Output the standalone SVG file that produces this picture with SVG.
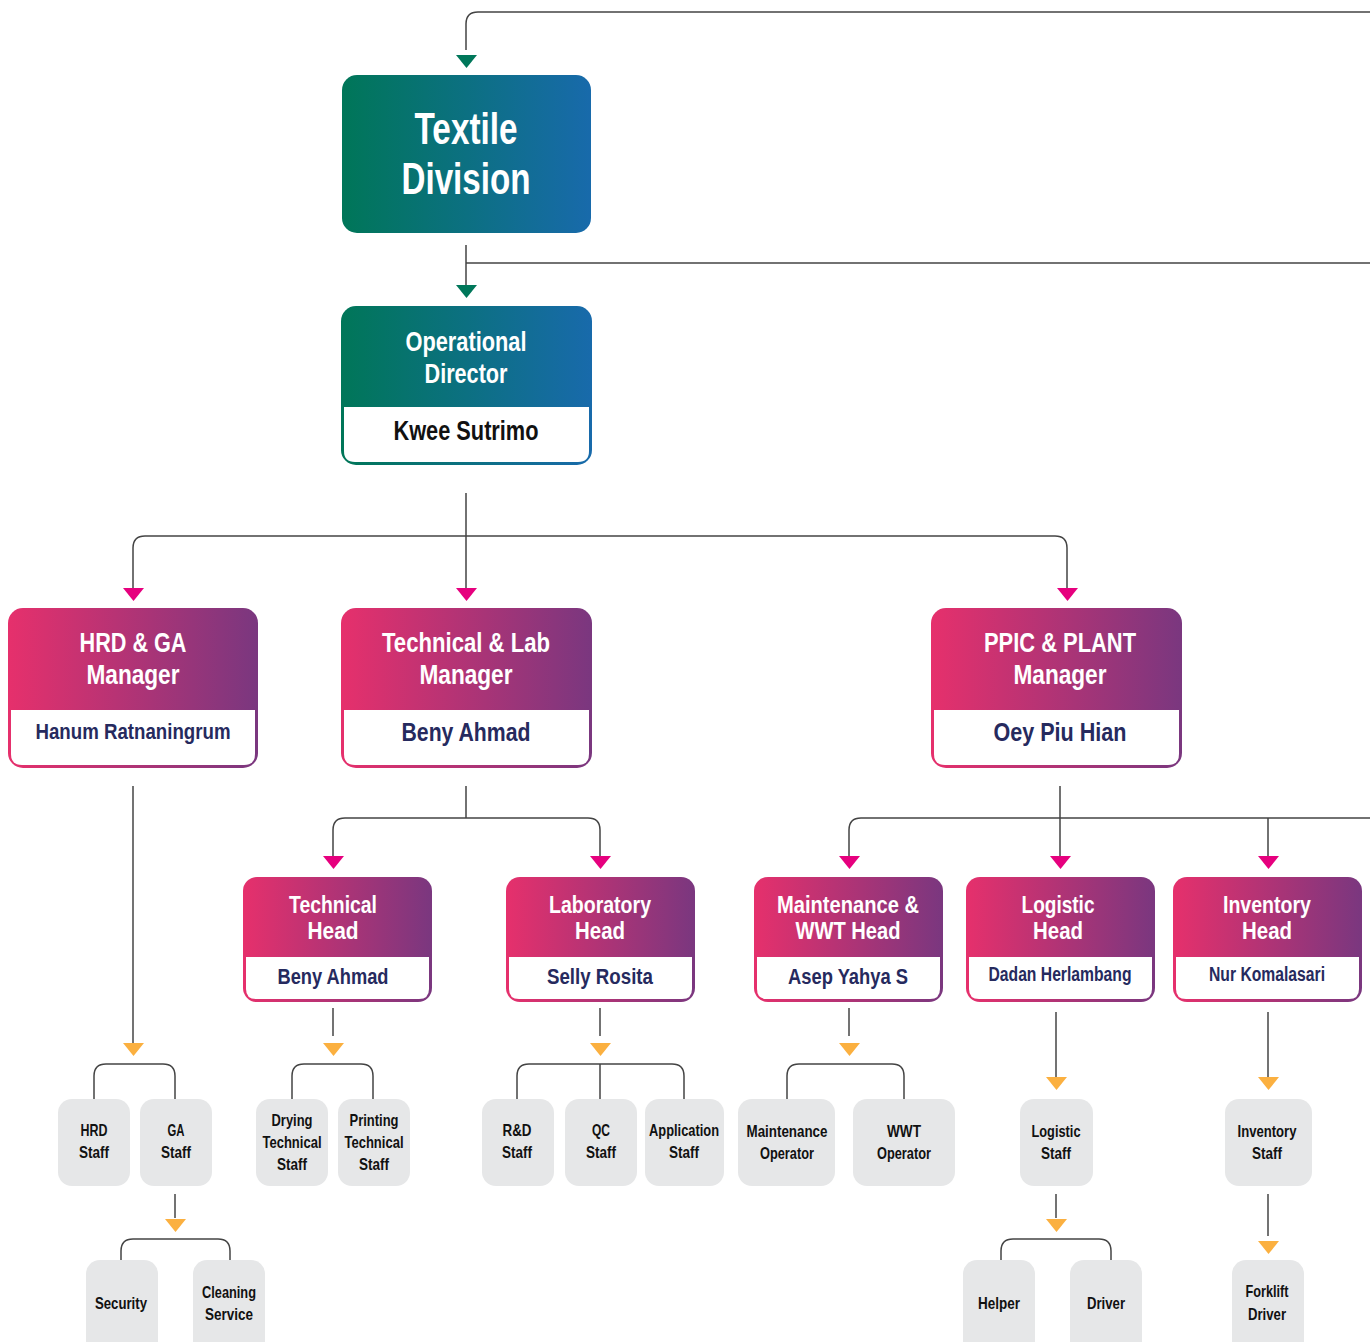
<svg xmlns="http://www.w3.org/2000/svg" width="1370" height="1342" viewBox="0 0 1370 1342">
<defs>
<linearGradient id="gBlue" x1="0" y1="0" x2="1" y2="0"><stop offset="0" stop-color="#007658"/><stop offset="1" stop-color="#186aab"/></linearGradient>
<linearGradient id="gPink" x1="0" y1="0" x2="1" y2="0"><stop offset="0" stop-color="#e6306c"/><stop offset="1" stop-color="#7a377f"/></linearGradient>
<style>
text{font-family:"Liberation Sans",Arial,sans-serif;font-weight:bold;text-anchor:middle}
.w{fill:#ffffff}
.k{fill:#111111}
.s{fill:#111111;font-size:16.5px}
.n{fill:#262a5e}
.ln{fill:none;stroke:#444444;stroke-width:1.5}
.ag{fill:#00775a}
.ap{fill:#e6007e}
.ao{fill:#fbb040}
.gb{fill:#e6e7e8}
.body{fill:#ffffff}
</style>
</defs>

<g id="connectors">
<path class="ln" d="M466,50 V24 Q466,12 478,12 H1370"/>
<path class="ln" d="M466,245 V286 M466,263 H1370"/>
<path class="ln" d="M466,493 V590 M133,590 V548 Q133,536 145,536 H1055 Q1067,536 1067,548 V590"/>
<path class="ln" d="M133,786 V1045"/>
<path class="ln" d="M94,1099 V1076 Q94,1064 106,1064 H163 Q175,1064 175,1076 V1099"/>
<path class="ln" d="M175,1194 V1218"/>
<path class="ln" d="M121,1260 V1251 Q121,1239 133,1239 H218 Q230,1239 230,1251 V1260"/>
<path class="ln" d="M466,786 V818 M333,858 V830 Q333,818 345,818 H588 Q600,818 600,830 V858"/>
<path class="ln" d="M333,1008 V1036"/>
<path class="ln" d="M292,1099 V1076 Q292,1064 304,1064 H361 Q373,1064 373,1076 V1099"/>
<path class="ln" d="M600,1008 V1036"/>
<path class="ln" d="M517,1099 V1076 Q517,1064 529,1064 H672 Q684,1064 684,1076 V1099 M600,1064 V1099"/>
<path class="ln" d="M1060,786 V858 M849,858 V830 Q849,818 861,818 H1370 M1268,818 V858"/>
<path class="ln" d="M849,1008 V1036"/>
<path class="ln" d="M787,1099 V1076 Q787,1064 799,1064 H892 Q904,1064 904,1076 V1099"/>
<path class="ln" d="M1056,1012 V1078"/>
<path class="ln" d="M1056,1194 V1218"/>
<path class="ln" d="M1001,1260 V1251 Q1001,1239 1013,1239 H1099 Q1111,1239 1111,1251 V1260"/>
<path class="ln" d="M1268,1012 V1078"/>
<path class="ln" d="M1268,1194 V1236"/>
<polygon class="ag" points="456,55 477,55 466.5,68"/>
<polygon class="ag" points="456,285 477,285 466.5,298"/>
<polygon class="ap" points="123,588 144,588 133.5,601"/>
<polygon class="ap" points="456,588 477,588 466.5,601"/>
<polygon class="ap" points="1057,588 1078,588 1067.5,601"/>
<polygon class="ap" points="323,856 344,856 333.5,869"/>
<polygon class="ap" points="590,856 611,856 600.5,869"/>
<polygon class="ap" points="839,856 860,856 849.5,869"/>
<polygon class="ap" points="1050,856 1071,856 1060.5,869"/>
<polygon class="ap" points="1258,856 1279,856 1268.5,869"/>
<polygon class="ao" points="123,1043 144,1043 133.5,1056"/>
<polygon class="ao" points="165,1219 186,1219 175.5,1232"/>
<polygon class="ao" points="323,1043 344,1043 333.5,1056"/>
<polygon class="ao" points="590,1043 611,1043 600.5,1056"/>
<polygon class="ao" points="839,1043 860,1043 849.5,1056"/>
<polygon class="ao" points="1046,1077 1067,1077 1056.5,1090"/>
<polygon class="ao" points="1046,1219 1067,1219 1056.5,1232"/>
<polygon class="ao" points="1258,1077 1279,1077 1268.5,1090"/>
<polygon class="ao" points="1258,1241 1279,1241 1268.5,1254"/>
</g>

<g id="textile-division">
<rect x="342" y="75" width="249" height="158" rx="15" fill="url(#gBlue)"/>
<text class="w" x="466" y="144" font-size="44" textLength="103" lengthAdjust="spacingAndGlyphs">Textile</text>
<text class="w" x="466" y="194" font-size="44" textLength="129" lengthAdjust="spacingAndGlyphs">Division</text>
</g>

<g id="operational-director">
<rect x="341" y="306" width="251" height="159" rx="15" fill="url(#gBlue)"/>
<path class="body" d="M344,407 H589 V451 Q589,462 578,462 H355 Q344,462 344,451 Z"/>
<text class="w" x="466" y="351" font-size="27" textLength="121" lengthAdjust="spacingAndGlyphs">Operational</text>
<text class="w" x="466" y="383" font-size="27" textLength="83" lengthAdjust="spacingAndGlyphs">Director</text>
<text class="k" x="466" y="440" font-size="27" textLength="145" lengthAdjust="spacingAndGlyphs">Kwee Sutrimo</text>
</g>

<g id="hrd-ga-manager">
<rect x="8" y="608" width="250" height="160" rx="15" fill="url(#gPink)"/>
<path class="body" d="M11,710 H255 V754 Q255,765 244,765 H22 Q11,765 11,754 Z"/>
<text class="w" x="133" y="652" font-size="27" textLength="107" lengthAdjust="spacingAndGlyphs">HRD &amp; GA</text>
<text class="w" x="133" y="684" font-size="27" textLength="93" lengthAdjust="spacingAndGlyphs">Manager</text>
<text class="n" x="133" y="739" font-size="22" textLength="195" lengthAdjust="spacingAndGlyphs">Hanum Ratnaningrum</text>
</g>

<g id="technical-lab-manager">
<rect x="341" y="608" width="251" height="160" rx="15" fill="url(#gPink)"/>
<path class="body" d="M344,710 H589 V754 Q589,765 578,765 H355 Q344,765 344,754 Z"/>
<text class="w" x="466" y="652" font-size="27" textLength="168" lengthAdjust="spacingAndGlyphs">Technical &amp; Lab</text>
<text class="w" x="466" y="684" font-size="27" textLength="93" lengthAdjust="spacingAndGlyphs">Manager</text>
<text class="n" x="466" y="741" font-size="26" textLength="129" lengthAdjust="spacingAndGlyphs">Beny Ahmad</text>
</g>

<g id="ppic-plant-manager">
<rect x="931" y="608" width="251" height="160" rx="15" fill="url(#gPink)"/>
<path class="body" d="M934,710 H1179 V754 Q1179,765 1168,765 H945 Q934,765 934,754 Z"/>
<text class="w" x="1060" y="652" font-size="27" textLength="152" lengthAdjust="spacingAndGlyphs">PPIC &amp; PLANT</text>
<text class="w" x="1060" y="684" font-size="27" textLength="93" lengthAdjust="spacingAndGlyphs">Manager</text>
<text class="n" x="1060" y="741" font-size="26" textLength="133" lengthAdjust="spacingAndGlyphs">Oey Piu Hian</text>
</g>

<g id="technical-head">
<rect x="243" y="877" width="189" height="125" rx="14" fill="url(#gPink)"/>
<path class="body" d="M246,957 H429 V989 Q429,999 419,999 H256 Q246,999 246,989 Z"/>
<text class="w" x="333" y="913" font-size="24" textLength="88" lengthAdjust="spacingAndGlyphs">Technical</text>
<text class="w" x="333" y="939" font-size="24" textLength="51" lengthAdjust="spacingAndGlyphs">Head</text>
<text class="n" x="333" y="984" font-size="22" textLength="111" lengthAdjust="spacingAndGlyphs">Beny Ahmad</text>
</g>

<g id="laboratory-head">
<rect x="506" y="877" width="189" height="125" rx="14" fill="url(#gPink)"/>
<path class="body" d="M509,957 H692 V989 Q692,999 682,999 H519 Q509,999 509,989 Z"/>
<text class="w" x="600" y="913" font-size="24" textLength="102" lengthAdjust="spacingAndGlyphs">Laboratory</text>
<text class="w" x="600" y="939" font-size="24" textLength="50" lengthAdjust="spacingAndGlyphs">Head</text>
<text class="n" x="600" y="984" font-size="22" textLength="106" lengthAdjust="spacingAndGlyphs">Selly Rosita</text>
</g>

<g id="maintenance-wwt-head">
<rect x="754" y="877" width="189" height="125" rx="14" fill="url(#gPink)"/>
<path class="body" d="M757,957 H940 V989 Q940,999 930,999 H767 Q757,999 757,989 Z"/>
<text class="w" x="848" y="913" font-size="24" textLength="142" lengthAdjust="spacingAndGlyphs">Maintenance &amp;</text>
<text class="w" x="848" y="939" font-size="24" textLength="105" lengthAdjust="spacingAndGlyphs">WWT Head</text>
<text class="n" x="848" y="984" font-size="22" textLength="120" lengthAdjust="spacingAndGlyphs">Asep Yahya S</text>
</g>

<g id="logistic-head">
<rect x="966" y="877" width="189" height="125" rx="14" fill="url(#gPink)"/>
<path class="body" d="M969,957 H1152 V989 Q1152,999 1142,999 H979 Q969,999 969,989 Z"/>
<text class="w" x="1058" y="913" font-size="24" textLength="73" lengthAdjust="spacingAndGlyphs">Logistic</text>
<text class="w" x="1058" y="939" font-size="24" textLength="50" lengthAdjust="spacingAndGlyphs">Head</text>
<text class="n" x="1060" y="981" font-size="19.5" textLength="143" lengthAdjust="spacingAndGlyphs">Dadan Herlambang</text>
</g>

<g id="inventory-head">
<rect x="1173" y="877" width="189" height="125" rx="14" fill="url(#gPink)"/>
<path class="body" d="M1176,957 H1359 V989 Q1359,999 1349,999 H1186 Q1176,999 1176,989 Z"/>
<text class="w" x="1267" y="913" font-size="24" textLength="88" lengthAdjust="spacingAndGlyphs">Inventory</text>
<text class="w" x="1267" y="939" font-size="24" textLength="50" lengthAdjust="spacingAndGlyphs">Head</text>
<text class="n" x="1267" y="981" font-size="19.5" textLength="116" lengthAdjust="spacingAndGlyphs">Nur Komalasari</text>
</g>

<g id="hrd-staff"><rect class="gb" x="58" y="1099" width="72" height="87" rx="14"/><text class="s" x="94" y="1136" textLength="27" lengthAdjust="spacingAndGlyphs">HRD</text><text class="s" x="94" y="1158" textLength="30" lengthAdjust="spacingAndGlyphs">Staff</text></g>
<g id="ga-staff"><rect class="gb" x="140" y="1099" width="72" height="87" rx="14"/><text class="s" x="176" y="1136" textLength="17" lengthAdjust="spacingAndGlyphs">GA</text><text class="s" x="176" y="1158" textLength="30" lengthAdjust="spacingAndGlyphs">Staff</text></g>
<g id="security"><rect class="gb" x="86" y="1260" width="72" height="95" rx="14"/><text class="s" x="121" y="1309" textLength="52" lengthAdjust="spacingAndGlyphs">Security</text></g>
<g id="cleaning-service"><rect class="gb" x="193" y="1260" width="72" height="95" rx="14"/><text class="s" x="229" y="1298" textLength="54" lengthAdjust="spacingAndGlyphs">Cleaning</text><text class="s" x="229" y="1320" textLength="48" lengthAdjust="spacingAndGlyphs">Service</text></g>
<g id="drying-technical-staff"><rect class="gb" x="256" y="1099" width="72" height="87" rx="14"/><text class="s" x="292" y="1126" textLength="41" lengthAdjust="spacingAndGlyphs">Drying</text><text class="s" x="292" y="1148" textLength="59" lengthAdjust="spacingAndGlyphs">Technical</text><text class="s" x="292" y="1170" textLength="30" lengthAdjust="spacingAndGlyphs">Staff</text></g>
<g id="printing-technical-staff"><rect class="gb" x="338" y="1099" width="72" height="87" rx="14"/><text class="s" x="374" y="1126" textLength="49" lengthAdjust="spacingAndGlyphs">Printing</text><text class="s" x="374" y="1148" textLength="59" lengthAdjust="spacingAndGlyphs">Technical</text><text class="s" x="374" y="1170" textLength="30" lengthAdjust="spacingAndGlyphs">Staff</text></g>
<g id="rd-staff"><rect class="gb" x="482" y="1099" width="72" height="87" rx="14"/><text class="s" x="517" y="1136" textLength="29" lengthAdjust="spacingAndGlyphs">R&amp;D</text><text class="s" x="517" y="1158" textLength="30" lengthAdjust="spacingAndGlyphs">Staff</text></g>
<g id="qc-staff"><rect class="gb" x="565" y="1099" width="72" height="87" rx="14"/><text class="s" x="601" y="1136" textLength="18" lengthAdjust="spacingAndGlyphs">QC</text><text class="s" x="601" y="1158" textLength="30" lengthAdjust="spacingAndGlyphs">Staff</text></g>
<g id="application-staff"><rect class="gb" x="645" y="1099" width="79" height="87" rx="14"/><text class="s" x="684" y="1136" textLength="70" lengthAdjust="spacingAndGlyphs">Application</text><text class="s" x="684" y="1158" textLength="30" lengthAdjust="spacingAndGlyphs">Staff</text></g>
<g id="maintenance-operator"><rect class="gb" x="738" y="1099" width="97" height="87" rx="14"/><text class="s" x="787" y="1137" textLength="81" lengthAdjust="spacingAndGlyphs">Maintenance</text><text class="s" x="787" y="1159" textLength="54" lengthAdjust="spacingAndGlyphs">Operator</text></g>
<g id="wwt-operator"><rect class="gb" x="853" y="1099" width="102" height="87" rx="14"/><text class="s" x="904" y="1137" textLength="34" lengthAdjust="spacingAndGlyphs">WWT</text><text class="s" x="904" y="1159" textLength="54" lengthAdjust="spacingAndGlyphs">Operator</text></g>
<g id="logistic-staff"><rect class="gb" x="1020" y="1099" width="73" height="87" rx="14"/><text class="s" x="1056" y="1137" textLength="49" lengthAdjust="spacingAndGlyphs">Logistic</text><text class="s" x="1056" y="1159" textLength="30" lengthAdjust="spacingAndGlyphs">Staff</text></g>
<g id="helper"><rect class="gb" x="963" y="1260" width="72" height="95" rx="14"/><text class="s" x="999" y="1309" textLength="42" lengthAdjust="spacingAndGlyphs">Helper</text></g>
<g id="driver"><rect class="gb" x="1070" y="1260" width="72" height="95" rx="14"/><text class="s" x="1106" y="1309" textLength="38" lengthAdjust="spacingAndGlyphs">Driver</text></g>
<g id="inventory-staff"><rect class="gb" x="1225" y="1099" width="87" height="87" rx="14"/><text class="s" x="1267" y="1137" textLength="59" lengthAdjust="spacingAndGlyphs">Inventory</text><text class="s" x="1267" y="1159" textLength="30" lengthAdjust="spacingAndGlyphs">Staff</text></g>
<g id="forklift-driver"><rect class="gb" x="1232" y="1260" width="72" height="95" rx="14"/><text class="s" x="1267" y="1297" textLength="43" lengthAdjust="spacingAndGlyphs">Forklift</text><text class="s" x="1267" y="1320" textLength="38" lengthAdjust="spacingAndGlyphs">Driver</text></g>
</svg>
